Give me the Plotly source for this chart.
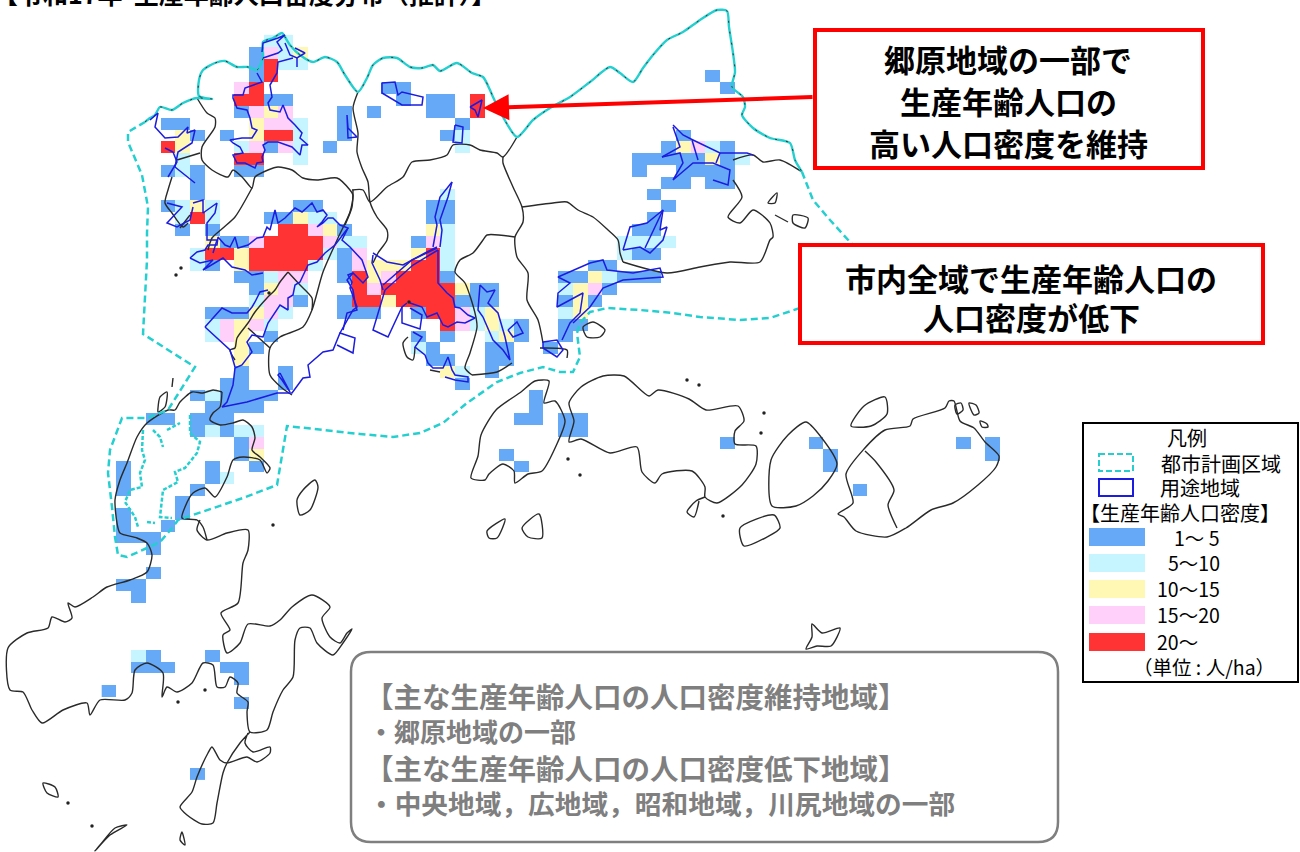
"""Production-age population density map drawn on a pixel grid with Plotly."""

import plotly.graph_objects as go

W, H = 1300, 852
FONT = "Noto Sans CJK JP"

# density classes
CLASS_LABELS = ["1～ 5", "5～10", "10～15", "15～20", "20～"]
CLASS_COLORS = ["#66a9f6", "#c6f4ff", "#fff8b4", "#ffd0f9", "#ff3333"]

# mesh: row -> [(first column, classes)]
DENSITY_ROWS = {
    -1: [(11, "22")],
    0: [(10, "1425"), (13, "3")],
    1: [(10, "152"), (13, "2")],
    2: [(10, "15"), (41, "1")],
    3: [(9, "45"), (19, "11"), (42, "1")],
    4: [(9, "55"), (11, "11"), (20, "1"), (22, "11"), (25, "5")],
    5: [(9, "1434"), (16, "1"), (18, "1"), (22, "11"), (25, "5")],
    6: [(4, "11"), (10, "3442"), (16, "1"), (24, "1")],
    7: [(5, "31"), (8, "1"), (10, "3552"), (16, "1"), (23, "12"), (39, "1")],
    8: [(4, "53"), (9, "24142"), (15, "1"), (24, "2"), (38, "13421")],
    9: [(5, "2"), (9, "55"), (13, "2"), (36, "11111"), (41, "312")],
    10: [(4, "121"), (9, "11"), (36, "1"), (39, "1111")],
    11: [(6, "1"), (38, "11"), (41, "11")],
    12: [(6, "1"), (23, "2"), (37, "1")],
    13: [(4, "1232"), (13, "11"), (22, "11"), (38, "1")],
    14: [(5, "252"), (11, "11322"), (22, "11"), (37, "1")],
    15: [(5, "1"), (7, "1"), (12, "55431"), (22, "32"), (36, "11")],
    16: [(7, "311"), (10, "45555"), (15, "422"), (21, "142"), (35, "2222")],
    17: [(6, "25535"), (11, "5555"), (15, "214"), (21, "352"), (35, "211")],
    18: [(6, "21"), (9, "3"), (10, "55552"), (16, "14"), (18, "333"), (21, "552"), (33, "11")],
    19: [(9, "11244"), (16, "15345"), (21, "551"), (31, "11321"), (35, "1"), (36, "11")],
    20: [(10, "134"), (13, "2"), (17, "5455555"), (24, "311"), (31, "2341")],
    21: [(10, "2441"), (16, "155"), (19, "35555"), (24, "111"), (31, "131")],
    22: [(7, "11134"), (12, "2"), (16, "111"), (21, "155421"), (26, "3"), (31, "23")],
    23: [(7, "24342"), (23, "5423"), (27, "21"), (31, "11")],
    24: [(7, "243"), (11, "1"), (21, "1"), (23, "1"), (26, "231"), (31, "1")],
    25: [(9, "31"), (21, "21"), (26, "11"), (30, "1")],
    26: [(9, "3"), (22, "11"), (26, "11")],
    27: [(9, "1"), (12, "1"), (23, "32"), (26, "1")],
    28: [(8, "11"), (12, "1"), (24, "1")],
    29: [(6, "121111"), (29, "1")],
    30: [(7, "1111"), (29, "1")],
    31: [(3, "11"), (6, "111"), (28, "11"), (31, "11")],
    32: [(6, "12122"), (31, "11")],
    33: [(9, "14"), (42, "1"), (48, "1"), (58, "1"), (60, "1")],
    34: [(9, "13"), (27, "1"), (49, "1"), (60, "1")],
    35: [(1, "1"), (7, "1"), (10, "1"), (28, "1"), (49, "1")],
    36: [(1, "1"), (7, "12")],
    37: [(1, "1"), (6, "1"), (51, "1")],
    38: [(5, "1")],
    39: [(1, "1"), (5, "1")],
    40: [(1, "1"), (4, "1")],
    41: [(1, "111")],
    42: [(3, "1")],
    44: [(3, "1")],
    45: [(1, "11")],
    46: [(2, "1")],
    51: [(2, "21"), (7, "1")],
    52: [(2, "111"), (8, "11")],
    53: [(9, "1")],
    54: [(0, "1")],
    55: [(9, "1")],
    61: [(6, "1")],
}

# map outlines, in picture pixels
NORTH_BORDER = [
    (145, 122), (150, 118), (155, 115), (160, 107), (172, 110), (183, 103), (197, 98), (212, 99),
    (199, 96), (199, 80), (203, 70), (215, 63), (225, 61), (237, 67), (248, 67), (257, 70), (263, 58),
    (263, 42), (273, 38), (282, 33), (285, 37), (290, 45), (300, 55), (313, 62), (325, 57), (337, 62),
    (345, 75), (358, 92), (367, 78), (373, 65), (383, 58), (397, 58), (410, 67), (422, 68), (433, 65),
    (440, 71), (457, 63), (472, 73), (483, 77), (490, 90), (493, 97), (503, 117), (517, 137), (533, 120),
    (550, 108), (570, 97), (590, 82), (610, 67), (620, 73), (633, 82), (643, 68), (653, 55), (667, 40),
    (683, 32), (700, 20), (717, 10), (727, 11), (729, 27), (733, 53), (735, 72), (732, 87), (743, 97),
    (745, 107), (742, 115), (753, 128), (770, 138), (790, 143), (795, 160), (802, 172),
]
PLANNING_AREA = [
    (802, 172), (813, 200), (830, 220), (850, 242), (870, 262), (800, 308), (770, 318), (740, 320),
    (700, 317), (673, 313), (640, 310), (607, 308), (590, 312), (580, 323), (577, 333), (580, 357),
    (573, 372), (560, 372), (543, 367), (520, 373), (497, 382), (467, 403), (443, 423), (420, 433),
    (393, 437), (360, 434), (287, 426), (277, 485), (243, 498), (193, 515), (178, 520), (173, 527),
    (160, 542), (147, 548), (127, 557), (118, 555), (115, 540), (115, 537), (112, 507), (108, 473),
    (110, 450), (122, 418), (147, 418), (168, 410), (195, 367), (143, 334), (147, 260), (147, 233),
    (148, 207), (142, 175), (128, 142), (128, 132), (145, 122),
]
ISLAND_PLANNING = [
    [(190, 415), (190, 433), (200, 442), (197, 453), (185, 468), (175, 472), (178, 482), (163, 490), (160, 517), (172, 518)],
    [(143, 430), (142, 450), (145, 460), (140, 473), (142, 487), (130, 490), (125, 502), (135, 517), (138, 527)],
    [(153, 430), (160, 437), (163, 447)],
    [(167, 430), (180, 423)],
    [(147, 522), (155, 523)],
]
DISTRICT_LINES = [
    [(197, 98), (207, 113), (215, 118), (215, 127), (202, 147), (202, 160), (212, 170), (228, 177), (233, 170), (243, 178), (252, 188), (255, 177), (268, 170), (278, 167), (292, 170), (303, 178), (317, 180), (337, 178), (350, 190), (353, 195), (350, 212), (338, 238), (323, 272), (312, 310), (303, 327), (280, 337), (270, 348), (270, 375), (282, 388), (292, 395)],
    [(252, 188), (235, 217), (223, 228), (212, 238), (208, 250)],
    [(358, 92), (353, 108), (358, 133), (357, 152), (362, 168), (368, 182), (370, 202), (377, 217), (387, 230), (387, 240), (378, 253), (373, 263)],
    [(352, 190), (363, 190), (370, 202), (387, 187), (403, 177), (412, 162), (430, 160), (447, 155), (453, 145), (470, 145), (480, 150), (497, 153), (503, 157), (517, 137)],
    [(503, 157), (503, 163), (513, 187), (522, 207), (523, 222), (515, 237), (517, 257), (528, 273), (527, 300), (538, 320), (543, 343)],
    [(522, 207), (553, 203), (567, 202), (578, 210), (593, 217), (608, 230), (618, 240), (620, 253), (623, 262)],
    [(515, 237), (487, 235), (483, 240), (473, 253), (460, 260), (455, 272), (465, 283), (475, 313), (477, 327), (470, 353), (465, 368), (472, 375)],
    [(353, 190), (352, 207), (345, 225)],
    [(288, 272), (280, 282), (275, 290), (267, 298), (255, 312), (248, 323), (237, 338), (235, 348), (230, 350), (235, 360)],
    [(248, 328), (270, 348)],
    [(288, 272), (300, 285), (312, 298), (312, 310)],
    [(177, 160), (200, 153)],
    [(172, 177), (168, 190), (165, 203), (172, 213), (183, 227), (188, 223)],
    [(180, 228), (190, 215)],
]
COAST_LINES = [
    # west peninsula and the long ring round the bay
    [(222, 392), (213, 390), (203, 393), (192, 392), (180, 402), (175, 410), (168, 410), (147, 423), (137, 437), (127, 463), (120, 480), (115, 500), (117, 523), (120, 533), (137, 538), (147, 543), (152, 555), (147, 572), (130, 580), (107, 587), (93, 597), (75, 607), (68, 603), (72, 618), (65, 622), (52, 617), (48, 628), (27, 633), (8, 648), (10, 690), (23, 692), (32, 710), (42, 723), (63, 710), (87, 703), (90, 715), (100, 700), (125, 700), (132, 693), (135, 670), (147, 663), (163, 673), (162, 697), (167, 687), (177, 692), (192, 683), (203, 663), (213, 665), (217, 687), (225, 687), (230, 677), (238, 683), (237, 693), (248, 702), (247, 712), (250, 732), (267, 730), (273, 712), (283, 690), (293, 677), (295, 640), (300, 628), (310, 628), (317, 643), (333, 655), (343, 643), (352, 629), (347, 633), (340, 643), (330, 637), (322, 618), (330, 607), (312, 595), (292, 607), (280, 620), (270, 626), (248, 624), (240, 643), (227, 653), (223, 635), (230, 630), (221, 613), (238, 603), (243, 563), (248, 550), (248, 530), (227, 533), (207, 540), (197, 530), (200, 520)],
    [(222, 392), (220, 407), (213, 413), (210, 420), (220, 425), (233, 423), (243, 420), (252, 427), (255, 438), (252, 450), (260, 457), (270, 468), (267, 473), (260, 460), (243, 457), (233, 460), (227, 477), (215, 497), (205, 488), (193, 493), (185, 507), (182, 518), (197, 520), (203, 527), (207, 540)],
    [(250, 732), (240, 743), (227, 763), (223, 773), (217, 803), (213, 823), (202, 824), (187, 815), (180, 807), (192, 792), (197, 777), (208, 753), (212, 747), (220, 760), (227, 763), (247, 757), (257, 762), (270, 753), (270, 747), (253, 752), (245, 743), (248, 733)],
    [(472, 375), (497, 372), (512, 363)],
    [(408, 337), (403, 343), (407, 357), (413, 360), (415, 347)],
    [(430, 370), (440, 372)],
    [(540, 348), (567, 350), (567, 358)],
    # north-east coast
    [(623, 262), (667, 273), (700, 267), (730, 262), (760, 262), (770, 240), (773, 237), (770, 223), (753, 210), (740, 223), (728, 217), (742, 197), (733, 180)],
    [(733, 160), (753, 155), (763, 162), (780, 160), (802, 172)],
    # islands
    [(471, 478), (478, 456), (481, 435), (496, 410), (521, 392), (535, 381), (549, 381), (544, 403), (555, 401), (565, 421), (556, 446), (542, 471), (528, 474), (515, 483), (514, 471), (503, 464), (489, 474), (485, 480), (471, 478)],
    [(569, 403), (581, 387), (603, 376), (624, 376), (649, 396), (658, 390), (689, 399), (706, 410), (738, 406), (744, 421), (735, 431), (735, 444), (756, 446), (756, 464), (742, 485), (717, 503), (705, 497), (705, 487), (692, 471), (662, 474), (655, 483), (642, 472), (637, 447), (610, 453), (581, 439), (569, 442), (574, 421), (569, 403)],
    [(705, 497), (696, 501), (687, 512), (694, 517), (699, 501)],
    [(771, 460), (788, 435), (806, 422), (821, 437), (837, 464), (828, 481), (813, 496), (796, 506), (772, 506), (771, 460)],
    [(838, 514), (853, 503), (846, 474), (864, 449), (885, 430), (910, 426), (913, 419), (945, 408), (949, 401), (954, 401), (960, 421), (974, 428), (985, 442), (999, 456), (996, 467), (978, 485), (953, 503), (931, 510), (906, 528), (887, 537), (856, 531), (844, 517), (838, 514)],
    [(865, 451), (876, 462), (894, 490), (888, 505), (897, 528)],
    [(851, 426), (864, 406), (885, 397), (887, 414), (871, 426), (851, 426)],
    [(812, 624), (822, 633), (840, 628), (831, 646), (817, 646), (806, 649), (812, 637), (812, 624)],
    [(740, 528), (774, 515), (780, 528), (767, 537), (744, 546), (740, 528)],
    [(487, 531), (505, 519), (497, 538), (489, 538), (487, 531)],
    [(522, 528), (539, 514), (542, 538), (528, 537), (522, 528)],
    [(955, 405), (961, 403), (963, 410), (957, 414), (955, 405)],
    [(969, 403), (976, 405), (979, 413), (974, 415), (969, 403)],
    [(980, 421), (987, 424), (988, 427), (982, 427), (980, 421)],
    [(583, 327), (593, 322), (605, 330), (600, 337), (587, 337), (583, 327)],
    [(297, 500), (303, 490), (315, 480), (318, 487), (310, 510), (300, 515), (297, 500)],
    [(158, 408), (160, 397), (167, 392), (165, 407), (158, 412), (158, 408)],
    [(43, 783), (55, 787), (58, 797), (47, 793), (43, 783)],
    [(95, 851), (110, 835), (127, 825), (115, 828), (100, 845), (95, 851)],
    [(182, 832), (185, 845), (180, 840), (182, 832)],
    [(768, 203), (777, 193), (775, 203), (768, 203)],
    [(775, 215), (788, 222)],
    [(793, 215), (808, 218), (805, 228), (793, 223), (793, 215)],
    [(173, 378), (172, 387)],
]
ISLET_X = [687, 699, 568, 580, 723, 764, 761, 181, 176, 68, 92, 178, 205, 273, 409, 269]
ISLET_Y = [380, 385, 459, 475, 516, 413, 433, 268, 275, 803, 826, 702, 690, 525, 302, 293]

ZONING_LINES = [
    # north clusters
    [(262, 52), (263, 43), (278, 38), (285, 35), (277, 42), (282, 50), (278, 53), (263, 58)],
    [(285, 43), (290, 55), (297, 58), (305, 53), (295, 48)],
    [(297, 58), (297, 67)],
    [(293, 58), (278, 62), (277, 73), (270, 85), (272, 97), (268, 103), (270, 110), (280, 112), (283, 105), (288, 118), (295, 125), (302, 133), (300, 138), (308, 145), (302, 145), (300, 155), (292, 147), (278, 142), (268, 142), (263, 145), (265, 150), (262, 157), (263, 162), (257, 163), (255, 168), (245, 163), (237, 163), (233, 155), (243, 153), (240, 147), (233, 143), (230, 140), (242, 138), (252, 138), (257, 130), (252, 128), (250, 118), (247, 110), (237, 108), (233, 98), (233, 95), (243, 95), (245, 88), (262, 82), (257, 73)],
    [(150, 120), (158, 113), (155, 127), (165, 138), (178, 137), (188, 127), (187, 133), (195, 130), (192, 143), (178, 152), (175, 167), (187, 177), (195, 183)],
    [(168, 177), (177, 162), (173, 152), (165, 148)],
    [(193, 203), (203, 200), (203, 213), (217, 203), (215, 213), (207, 223), (207, 240), (217, 240), (213, 253)],
    [(167, 203), (182, 207), (167, 223), (177, 227), (190, 220), (193, 207)],
    [(382, 83), (395, 82), (398, 95), (402, 92), (423, 97), (422, 105), (402, 105), (382, 93), (382, 83)],
    [(470, 107), (482, 100), (478, 117), (475, 110), (470, 107)],
    [(455, 125), (463, 127), (462, 143), (453, 142), (455, 125)],
    [(347, 115), (348, 128), (357, 137), (348, 138), (347, 115)],
    # Kure plain
    [(190, 258), (197, 252), (205, 250), (208, 245), (217, 245), (218, 237), (225, 245), (230, 247), (235, 237), (238, 248), (248, 245), (257, 238), (263, 237), (267, 227), (270, 230), (275, 210), (278, 223), (285, 218), (295, 208), (302, 212), (312, 203), (317, 212), (323, 210), (327, 215), (322, 222), (317, 227), (323, 223), (328, 218), (333, 218), (340, 225), (348, 228), (340, 238), (335, 245), (325, 253), (317, 262), (308, 265), (300, 282), (295, 285), (293, 295), (288, 298), (288, 310), (280, 305), (272, 317), (268, 323), (263, 337), (252, 335), (247, 342), (252, 352), (242, 365), (235, 368), (233, 385), (227, 402), (222, 407), (247, 402), (277, 393), (292, 393), (303, 378), (310, 377), (308, 365), (323, 352), (333, 350), (340, 333), (355, 338), (353, 353), (337, 345)],
    [(340, 333), (353, 310), (357, 307), (350, 288), (352, 282), (348, 275), (353, 273), (363, 283), (368, 277), (362, 260), (350, 247), (342, 240), (348, 228)],
    [(280, 373), (290, 392), (282, 380), (278, 375), (280, 373)],
    [(190, 258), (200, 263), (213, 260), (203, 270), (223, 258), (232, 267), (245, 270), (252, 275), (263, 273)],
    [(205, 327), (222, 308), (232, 313), (247, 313), (252, 307), (255, 302), (260, 292), (268, 290)],
    [(205, 327), (230, 350), (235, 367)],
    [(452, 182), (440, 197), (435, 217), (437, 225), (433, 247)],
    [(452, 182), (448, 197), (440, 220), (442, 230), (440, 247)],
    [(383, 285), (412, 260), (437, 248)],
    [(385, 290), (413, 265), (438, 250)],
    [(385, 290), (373, 330), (388, 337), (402, 307), (407, 303)],
    [(402, 307), (402, 323), (420, 329), (422, 315), (410, 308)],
    [(438, 250), (438, 283), (447, 293), (453, 298), (455, 307), (460, 308), (468, 315), (475, 318), (465, 323), (457, 322), (448, 327), (443, 325), (437, 313), (427, 317), (422, 307), (410, 303)],
    [(353, 273), (347, 280), (353, 290), (355, 303), (357, 310), (347, 313), (343, 330)],
    [(373, 255), (372, 263), (380, 280), (383, 290)],
    [(373, 253), (387, 262), (403, 265), (415, 258), (425, 253), (437, 247)],
    [(413, 332), (422, 337), (415, 347), (425, 355), (428, 363), (433, 368), (443, 368), (448, 357), (452, 370), (455, 375), (468, 377), (468, 382), (455, 380), (445, 377)],
    [(480, 285), (487, 292), (495, 290), (488, 303), (498, 313), (505, 337), (510, 360), (503, 350), (493, 340), (483, 317), (478, 310), (480, 285)],
    [(508, 330), (517, 322), (523, 333), (513, 337), (508, 330)],
    [(543, 342), (557, 340), (563, 350), (557, 357), (543, 348), (543, 342)],
    [(562, 340), (570, 323), (580, 313), (583, 293), (557, 307), (558, 293), (570, 283), (558, 277), (590, 263), (603, 260), (607, 270), (633, 273), (660, 268), (663, 277), (623, 280), (603, 288), (590, 307), (573, 323)],
    [(623, 250), (630, 227), (647, 223), (663, 210), (660, 230), (667, 227), (663, 240), (650, 253), (640, 247), (623, 250)],
    [(645, 248), (663, 210)],
    # north-east town
    [(673, 125), (683, 135), (693, 140), (720, 153), (747, 153), (753, 155)],
    [(662, 157), (680, 147), (673, 127)],
    [(662, 157), (680, 153), (683, 163), (673, 180), (693, 163), (713, 163), (730, 170), (728, 185), (713, 180)],
    [(692, 140), (698, 160)],
    [(720, 153), (716, 163)],
]

TITLE = "【令和17年  生産年齢人口密度分布（推計）】"
CALLOUT_NORTH = ["郷原地域の一部で", "生産年齢人口の", "高い人口密度を維持"]
CALLOUT_CITY = ["市内全域で生産年齢人口の", "人口密度が低下"]
SUMMARY = [
    "【主な生産年齢人口の人口密度維持地域】",
    "・郷原地域の一部",
    "【主な生産年齢人口の人口密度低下地域】",
    "・中央地域，広地域，昭和地域，川尻地域の一部",
]


def density_matrix():
    z = []
    first_row = min(DENSITY_ROWS)
    for row in range(first_row, max(DENSITY_ROWS) + 1):
        line = [None] * 62
        for col, classes in DENSITY_ROWS.get(row, []):
            for i, c in enumerate(classes):
                line[col + i] = int(c)
        z.append(line)
    return z


def polyline_trace(paths, color, width, dash="solid", spline=False):
    xs, ys = [], []
    for path in paths:
        xs += [p[0] for p in path] + [None]
        ys += [p[1] for p in path] + [None]
    line = dict(color=color, width=width, dash=dash)
    if spline:
        line.update(shape="spline", smoothing=0.7)
    return go.Scatter(x=xs, y=ys, mode="lines", line=line, hoverinfo="skip")


def rounded_rect(x0, y0, x1, y1, r):
    return (
        f"M{x0 + r},{y0} L{x1 - r},{y0} Q{x1},{y0} {x1},{y0 + r} L{x1},{y1 - r} Q{x1},{y1} {x1 - r},{y1} "
        f"L{x0 + r},{y1} Q{x0},{y1} {x0},{y1 - r} L{x0},{y0 + r} Q{x0},{y0} {x0 + r},{y0} Z"
    )


def label(x, y, text, size, color="#000000", anchor="center", bold=False):
    return dict(
        x=x, y=y, xref="x", yref="y", text=f"<b>{text}</b>" if bold else text, showarrow=False,
        xanchor=anchor, yanchor="middle", font=dict(family=FONT, size=size, color=color),
    )


steps = []
for i, color in enumerate(CLASS_COLORS):
    steps += [[i / 5, color], [(i + 1) / 5, color]]

fig = go.Figure()
fig.add_trace(go.Heatmap(
    z=density_matrix(),
    x0=101.7 + 14.73 / 2, dx=14.73,
    y0=34.9 + 11.82 / 2, dy=11.82,
    zmin=0.5, zmax=5.5,
    colorscale=steps,
    showscale=False,
    hoverinfo="skip",
))
fig.add_trace(polyline_trace(DISTRICT_LINES + COAST_LINES, "#2a2a2a", 1.4, spline=True))
fig.add_trace(polyline_trace([NORTH_BORDER], "#26cfcf", 2.4, spline=True))
fig.add_trace(polyline_trace([NORTH_BORDER], "#333333", 1, "2px,9px", spline=True))
fig.add_trace(polyline_trace([PLANNING_AREA], "#26cfcf", 2.5, "7px,4px"))
fig.add_trace(polyline_trace(ISLAND_PLANNING, "#26cfcf", 2.5, "4px,2px"))
fig.add_trace(polyline_trace(ZONING_LINES, "#1c1ce0", 1.5))
fig.add_trace(go.Scatter(x=ISLET_X, y=ISLET_Y, mode="markers", marker=dict(color="#222222", size=3.5), hoverinfo="skip"))

shapes = [
    dict(type="rect", x0=815, y0=30, x1=1203, y1=168, line=dict(color="#ff0000", width=4), fillcolor="white"),
    dict(type="rect", x0=800, y0=245, x1=1263, y1=343, line=dict(color="#ff0000", width=4), fillcolor="white"),
    dict(type="path", path=rounded_rect(351, 652, 1058, 842, 20), line=dict(color="#7f7f7f", width=2.5), fillcolor="white"),
    dict(type="rect", x0=1083, y0=423, x1=1298, y1=682, line=dict(color="#000000", width=2), fillcolor="white"),
    dict(type="rect", x0=1099, y0=454, x1=1133, y1=471, line=dict(color="#26cfcf", width=2, dash="6px,3px")),
    dict(type="rect", x0=1099, y0=479, x1=1133, y1=496, line=dict(color="#1c1ce0", width=2)),
]
swatch_tops = [528, 554, 580, 606, 633]
for top, color in zip(swatch_tops, CLASS_COLORS):
    shapes.append(dict(type="rect", x0=1089, y0=top, x1=1145, y1=top + 18, line=dict(width=0), fillcolor=color))

title = label(0, 0, TITLE, 25, anchor="left", bold=True)
title.update(xshift=-9, yshift=7)
annotations = [title]
for y, text in zip([58, 100, 142], CALLOUT_NORTH):
    annotations.append(label(1008, y, text, 31, bold=True))
for y, text in zip([277, 316], CALLOUT_CITY):
    annotations.append(label(1031, y, text, 31, bold=True))
annotations.append(label(363, 695, SUMMARY[0], 28.5, color="#7f7f7f", anchor="left", bold=True))
annotations.append(label(366, 730, SUMMARY[1], 26, color="#7f7f7f", anchor="left", bold=True))
annotations.append(label(363, 767, SUMMARY[2], 28.5, color="#7f7f7f", anchor="left", bold=True))
annotations.append(label(366, 802, SUMMARY[3], 26.7, color="#7f7f7f", anchor="left", bold=True))
annotations += [
    label(1187, 437, "凡例", 20),
    label(1221, 463, "都市計画区域", 20),
    label(1200, 487, "用途地域", 20),
    label(1180, 512, "【生産年齢人口密度】", 20),
    label(1204, 666, "（単位 : 人/ha）", 19.5),
]
for y, text, right in zip([537, 562, 588, 614, 641], CLASS_LABELS, [1222, 1222, 1222, 1222, 1200]):
    annotations.append(label(right, y, text, 19.5, anchor="right"))
annotations.append(dict(
    x=483, y=108, ax=814, ay=97, xref="x", yref="y", axref="x", ayref="y", text="",
    showarrow=True, arrowhead=2, arrowsize=1.3, arrowwidth=4, arrowcolor="#ff0000",
))

fig.update_layout(
    width=W, height=H,
    margin=dict(l=0, r=0, t=0, b=0),
    paper_bgcolor="white", plot_bgcolor="white",
    showlegend=False,
    xaxis=dict(range=[0, W], visible=False, fixedrange=True),
    yaxis=dict(range=[H, 0], visible=False, fixedrange=True),
    shapes=shapes,
    annotations=annotations,
)

fig.write_html("out.html", post_script="document.body.style.margin='0';", config=dict(displayModeBar=False))
